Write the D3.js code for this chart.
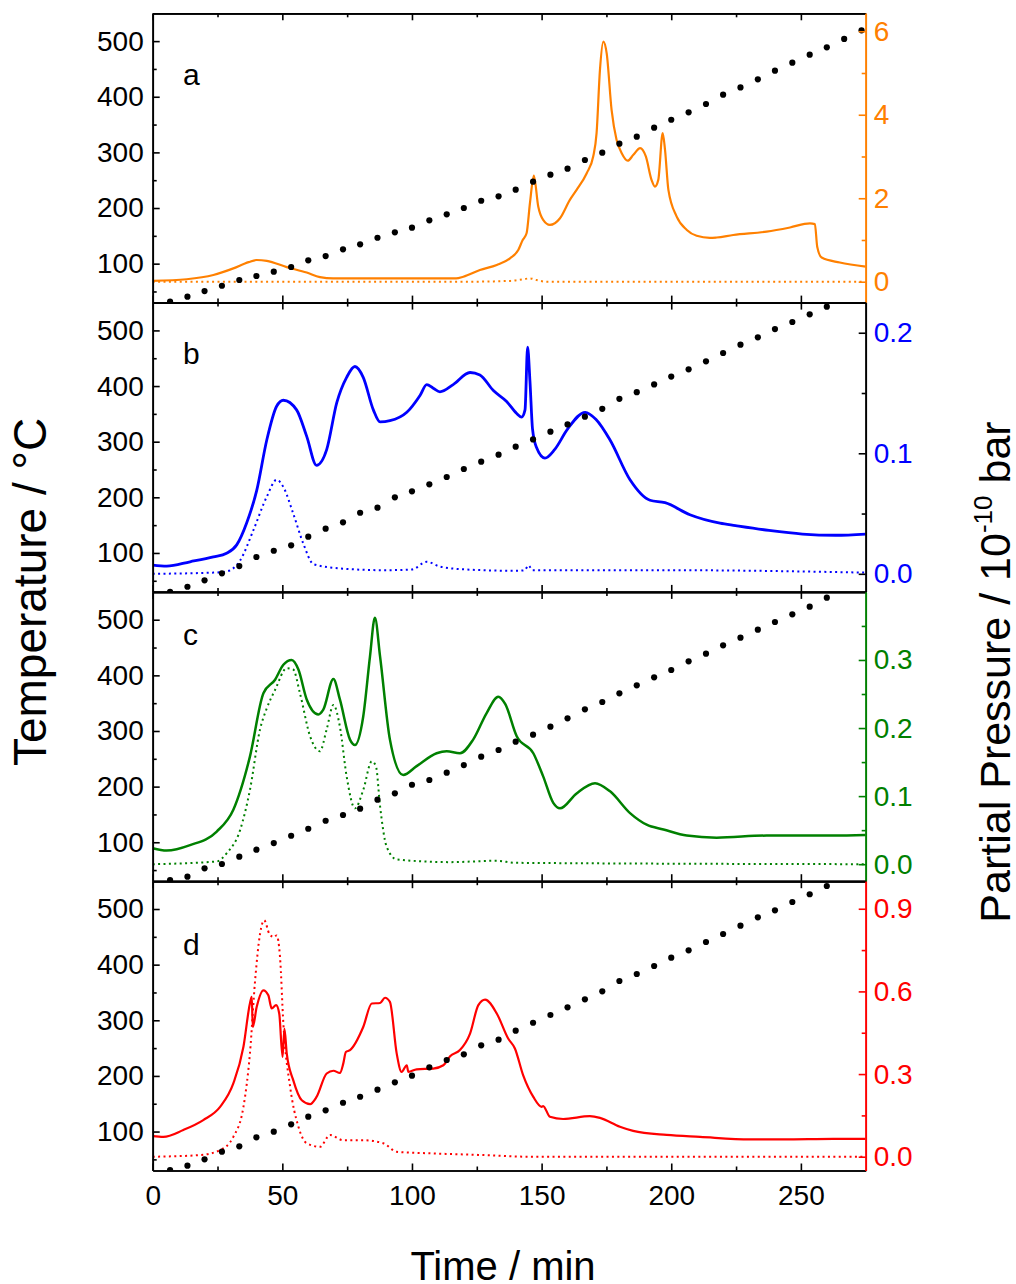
<!DOCTYPE html>
<html>
<head>
<meta charset="utf-8">
<script src="https://cdn.jsdelivr.net/npm/d3@7"></script>
<style>
  html, body { margin: 0; padding: 0; background: #fff; }
  svg { display: block; }
  text { font-family: Arial, "Liberation Sans", sans-serif; }
</style>
</head>
<body>
<svg id="chart" width="1016" height="1284"></svg>
<script>
// ---- data -------------------------------------------------------------
// sampling times of the thermocouple readings (min)
const dotTimes = [6.7, 13.4, 20.0, 26.7, 33.4, 40.0, 46.7, 53.4, 60.0, 66.7,
  73.4, 80.0, 86.7, 93.4, 100.0, 106.7, 113.4, 120.0, 126.7, 133.4, 140.0,
  146.7, 153.4, 160.0, 166.7, 173.4, 180.0, 186.7, 193.4, 200.0, 206.7,
  213.4, 220.0, 226.7, 233.4, 240.0, 246.7, 253.4, 260.0, 266.7, 273.4];

// temperature (°C) for each run
const tempA = [31.6, 40.6, 50.8, 60.3, 70.6, 77.8, 85.5, 94, 106, 113.7,
  125.8, 134.8, 146.6, 156.3, 164.6, 177.9, 188.7, 200, 213.1, 221, 232.9,
  247.3, 259.9, 270.7, 286.3, 299.4, 315.6, 328.2, 344.4, 358.7, 372, 387,
  403.7, 416.8, 431.3, 446.8, 461.2, 475.6, 488.9, 504, 519.4];
const tempB = [30.3, 39.3, 50.8, 63.4, 76.5, 92.7, 104, 113.7, 129.2, 143.6,
  155, 172.3, 181.3, 200, 210.8, 223.4, 236.5, 250.9, 264, 276.6, 291, 304,
  318, 331, 345, 359, 377, 389, 403, 417, 430, 444.5, 459.4, 474.3, 487.6,
  502.5, 515.1, 529, 542.6];
const tempC = [32.1, 38.1, 53.1, 60.9, 74, 86.6, 98.6, 111.7, 124.3, 138.7,
  149, 160.3, 176.5, 188, 203.4, 211.9, 225, 238.8, 253.8, 265.8, 280.7,
  293.3, 307.7, 322.8, 339, 352.1, 367.7, 382.1, 396.4, 409.6, 425.2, 438.9,
  454, 467.7, 482.1, 495.9, 509.7, 523.4, 539.6];
const tempD = [30.9, 38.6, 50.1, 63.8, 73.5, 89.6, 99.7, 113, 126.7, 138.2,
  151.8, 162.6, 175.2, 188.5, 200.4, 215.5, 228.6, 238.8, 255, 265.1, 281.3,
  295.6, 309.5, 323.3, 337.7, 352.1, 370.6, 383.2, 397.6, 412.5, 425.8,
  440.7, 455.1, 470, 485.1, 497.7, 512.6, 526.5, 541.4];

// partial pressures [time (min), p (1e-10 bar)]
const aSolid = [[0,0.02],[13.1,0.06],[23.4,0.16],[31.1,0.32],[37,0.47],[40.1,0.52],
  [44,0.50],[51.7,0.35],[59.4,0.22],[64.5,0.11],[69.6,0.08],[117,0.08],[119.8,0.12],
  [126.2,0.28],[132.7,0.40],[137.8,0.56],[141,0.76],[142.7,1.0],[144.2,1.16],
  [145.5,1.88],[147,2.54],[148.7,1.80],[150.6,1.48],[153.2,1.36],[157.1,1.52],
  [160.9,1.96],[163.5,2.20],[167.4,2.60],[169.9,3.0],[171.2,3.56],[172.5,5.07],
  [173.8,5.75],[175.1,5.47],[177,4.11],[178.9,3.40],[180.9,3.08],[183.2,2.90],
  [185.4,3.04],[188,3.20],[190.2,3.0],[192.4,2.44],[193.7,2.28],[195,2.44],
  [196.7,3.56],[197.6,3.16],[198.9,2.20],[202.1,1.56],[206,1.24],[209.8,1.10],
  [214.9,1.05],[217.5,1.06],[223.9,1.12],[236.8,1.20],[245.8,1.30],[253.5,1.40],
  [255.4,1.38],[256.3,0.84],[258,0.58],[265,0.46],[275,0.36]];
const aDotted = [[0,0],[120,0],[138,0.02],[143,0.06],[145.5,0.08],[148,0.04],
  [152,0],[275,0]];

const bSolid = [[0,0.0072],[5.4,0.0064],[14.4,0.010],[23.4,0.014],[28.5,0.017],
  [32.4,0.024],[36.2,0.042],[40.1,0.069],[44,0.111],[47.8,0.139],[50.4,0.144],
  [55.5,0.136],[59.4,0.114],[63.2,0.090],[67.1,0.103],[71,0.142],[74.8,0.163],
  [78,0.172],[81.2,0.163],[85.1,0.136],[87.7,0.126],[91.5,0.127],[98,0.134],
  [103.1,0.148],[105.7,0.157],[108.2,0.154],[110.8,0.151],[115.9,0.157],
  [122.4,0.167],[126.2,0.165],[131.4,0.152],[136.5,0.143],[140.4,0.133],
  [142.3,0.130],[143.6,0.136],[144.6,0.188],[145.5,0.160],[146.5,0.12],
  [148,0.105],[151.3,0.096],[155,0.103],[160,0.120],[166.8,0.134],[171,0.128],
  [176.4,0.111],[184.1,0.078],[191.8,0.061],[197.6,0.059],[207.2,0.049],
  [218.8,0.042],[224.8,0.040],[237.7,0.036],[250.6,0.033],[263.4,0.032],[275,0.033]];
const bDotted = [[0,0],[23.4,0.001],[28.5,0.002],[33.7,0.011],[38.8,0.036],
  [44,0.064],[47.8,0.078],[50.4,0.072],[54.2,0.050],[58.1,0.025],[62,0.008],
  [72.2,0.0045],[89,0.003],[100,0.0036],[105.7,0.010],[110.8,0.006],[121,0.0036],
  [140.4,0.0025],[143.5,0.003],[144.9,0.007],[146.5,0.003],[200,0.003],[275,0.001]];

const cSolid = [[0,0.0235],[5.4,0.020],[14.4,0.028],[24.7,0.048],[31.1,0.080],
  [37.5,0.158],[42.7,0.251],[47.2,0.271],[50.4,0.293],[53.6,0.300],[56.2,0.286],
  [59.4,0.242],[63.9,0.220],[65.8,0.227],[69.7,0.272],[72.2,0.242],[76.1,0.183],
  [78,0.175],[81.2,0.217],[83.8,0.305],[85.7,0.362],[87.7,0.305],[91.5,0.183],
  [96.6,0.131],[101.8,0.144],[109.5,0.163],[113.4,0.166],[118.5,0.163],
  [123.6,0.183],[128.8,0.222],[133.3,0.246],[136,0.235],[140.4,0.188],
  [146.8,0.163],[150.6,0.129],[154.5,0.090],[157.1,0.082],[163.5,0.104],
  [170.6,0.119],[176.4,0.107],[184.1,0.075],[190.5,0.058],[197,0.051],
  [206,0.042],[217.5,0.039],[236.8,0.042],[262.5,0.042],[275,0.043]];
const cDotted = [[0,0],[24.7,0.004],[28.5,0.016],[33.7,0.050],[37.5,0.109],
  [41.4,0.198],[44,0.229],[47.2,0.256],[51.7,0.288],[54.2,0.286],[56.8,0.251],
  [60.7,0.188],[64.5,0.166],[67.1,0.198],[69.7,0.234],[72.2,0.202],[74.8,0.129],
  [78,0.082],[81.2,0.109],[84.5,0.151],[86.1,0.144],[87.7,0.085],[90.2,0.026],
  [94.1,0.007],[114.7,0.003],[132.7,0.005],[140,0.002],[275,0]];

const dSolid = [[0,0.075],[4.1,0.072],[11.8,0.097],[19.5,0.133],[26,0.181],
  [31.1,0.266],[35,0.399],[37.5,0.556],[38.2,0.580],[38.6,0.471],[40.1,0.543],
  [42.7,0.604],[44.6,0.586],[45.9,0.538],[47.6,0.550],[48.8,0.520],[50.1,0.362],
  [50.8,0.465],[51.7,0.375],[54.2,0.278],[57.5,0.205],[60.7,0.191],[63.2,0.217],
  [67.1,0.302],[69.7,0.312],[72.2,0.304],[73.5,0.338],[74.5,0.380],[76.1,0.387],
  [81.2,0.471],[84.5,0.556],[87.7,0.558],[89.6,0.577],[91.5,0.562],[94.1,0.375],
  [96,0.308],[98,0.332],[98.6,0.308],[101.8,0.317],[108.2,0.320],[112.1,0.332],
  [114.7,0.365],[118.5,0.387],[122.4,0.447],[125.6,0.550],[128.2,0.570],
  [132.7,0.520],[137.1,0.429],[139.7,0.393],[142.9,0.295],[146.8,0.217],
  [150,0.181],[150.6,0.184],[153.2,0.145],[158.3,0.137],[168.6,0.147],
  [172.5,0.141],[180.2,0.109],[185.3,0.094],[198.2,0.079],[211.1,0.072],
  [230.4,0.063],[243.2,0.063],[262.5,0.065],[275,0.065]];
const dDotted = [[0,0],[18.2,0.006],[26,0.024],[31.1,0.072],[35,0.181],[37.5,0.375],
  [39.5,0.640],[41.4,0.809],[43,0.858],[45,0.809],[46.8,0.797],[47.8,0.803],
  [49.1,0.725],[50.4,0.483],[53,0.254],[56.2,0.109],[59.4,0.049],[64.5,0.036],
  [68.4,0.079],[73.5,0.060],[81.2,0.060],[88.9,0.049],[94.1,0.018],[108.2,0.012],
  [127.5,0.006],[145,0],[275,0]];

// axis ticks
const timeTicks = [0, 50, 100, 150, 200, 250];
const timeMinor = [25, 75, 125, 175, 225];
const tempTicks = [100, 200, 300, 400, 500];
const tempMinor = [50, 150, 250, 350, 450];

// ---- layout -----------------------------------------------------------
const plotLeft = 152.7, plotRight = 865.7, plotTop = 13.3, panelH = 289.3;

const panels = [
  { letter: "a", color: "#ff8000", axisColor: "#ff8000", solid: aSolid, dotted: aDotted,
    temp: tempA, pDomain: [-0.5, 6.43], pTicks: [0, 2, 4, 6], pMinor: [1, 3, 5],
    fmt: d3.format("d"), letterY: 85, width: 2.2 },
  { letter: "b", color: "#0000ff", axisColor: "#000000", solid: bSolid, dotted: bDotted,
    temp: tempB, pDomain: [-0.015, 0.225], pTicks: [0, 0.1, 0.2], pMinor: [0.05, 0.15],
    fmt: d3.format(".1f"), letterY: 364, width: 2.8 },
  { letter: "c", color: "#008000", axisColor: "#008000", solid: cSolid, dotted: cDotted,
    temp: tempC, pDomain: [-0.025, 0.4], pTicks: [0, 0.1, 0.2, 0.3], pMinor: [0.05, 0.15, 0.25, 0.35],
    fmt: d3.format(".1f"), letterY: 645, width: 2.5 },
  { letter: "d", color: "#ff0000", axisColor: "#ff0000", solid: dSolid, dotted: dDotted,
    temp: tempD, pDomain: [-0.05, 1.0], pTicks: [0, 0.3, 0.6, 0.9], pMinor: [0.15, 0.45, 0.75],
    fmt: d3.format(".1f"), letterY: 955, width: 2.2 }
];

const svg = d3.select("#chart");
const x = d3.scaleLinear().domain([0, 275]).range([plotLeft, plotRight]);
const FS = 28;

const styleAxis = (sel, color) => {
  sel.selectAll("path.domain").attr("stroke", color).attr("stroke-width", 1.7);
  sel.selectAll(".tick line").attr("stroke", color).attr("stroke-width", 1.6);
  sel.selectAll(".tick text").attr("font-size", FS)
    .attr("font-family", "Arial, 'Liberation Sans', sans-serif");
};

panels.forEach((p, i) => {
  const top = plotTop + i * panelH, bottom = top + panelH;
  const yT = d3.scaleLinear().domain([30, 550]).range([bottom, top]);
  const yP = d3.scaleLinear().domain(p.pDomain).range([bottom, top]);
  const isLast = i === panels.length - 1;

  const clipId = "clip" + i;
  svg.append("clipPath").attr("id", clipId)
    .append("rect").attr("x", plotLeft).attr("y", top)
    .attr("width", plotRight - plotLeft).attr("height", panelH);

  const g = svg.append("g").attr("clip-path", `url(#${clipId})`);
  const line = d3.line().x(d => x(d[0])).y(d => yP(d[1])).curve(d3.curveMonotoneX);

  g.append("path").datum(p.dotted).attr("d", line)
    .attr("fill", "none").attr("stroke", p.color)
    .attr("stroke-width", 2).attr("stroke-dasharray", "2,3.4");
  g.append("path").datum(p.solid).attr("d", line)
    .attr("fill", "none").attr("stroke", p.color)
    .attr("stroke-width", p.width).attr("stroke-linejoin", "round");

  g.selectAll("circle.temp").data(p.temp).join("circle")
    .attr("class", "temp")
    .attr("cx", (d, k) => x(dotTimes[k]))
    .attr("cy", d => yT(d))
    .attr("r", 3.1).attr("fill", "#000");

  // bottom & top time axes (inward ticks)
  const gb = svg.append("g").attr("transform", `translate(0,${bottom})`);
  gb.append("g").call(d3.axisBottom(x).tickValues(timeTicks).tickSize(-7).tickSizeOuter(0)
    .tickPadding(15).tickFormat(isLast ? d3.format("d") : () => ""));
  gb.append("g").call(d3.axisBottom(x).tickValues(timeMinor).tickSize(-4).tickSizeOuter(0)
    .tickFormat(() => ""));
  styleAxis(gb, "#000");
  gb.selectAll(".tick text").attr("fill", "#000");

  const gt = svg.append("g").attr("transform", `translate(0,${top})`);
  gt.append("g").call(d3.axisTop(x).tickValues(timeTicks).tickSize(-7).tickSizeOuter(0).tickFormat(() => ""));
  gt.append("g").call(d3.axisTop(x).tickValues(timeMinor).tickSize(-4).tickSizeOuter(0).tickFormat(() => ""));
  styleAxis(gt, "#000");

  // left temperature axis
  const gl = svg.append("g").attr("transform", `translate(${plotLeft},0)`);
  gl.append("g").call(d3.axisLeft(yT).tickValues(tempTicks).tickSize(-7).tickSizeOuter(0)
    .tickPadding(9).tickFormat(d3.format("d")));
  gl.append("g").call(d3.axisLeft(yT).tickValues(tempMinor).tickSize(-4).tickSizeOuter(0).tickFormat(() => ""));
  styleAxis(gl, "#000");
  gl.selectAll(".tick text").attr("fill", "#000");

  // right partial pressure axis
  const gr = svg.append("g").attr("transform", `translate(${plotRight},0)`);
  gr.append("g").call(d3.axisRight(yP).tickValues(p.pTicks).tickSize(-7).tickSizeOuter(0)
    .tickPadding(8).tickFormat(p.fmt));
  gr.append("g").call(d3.axisRight(yP).tickValues(p.pMinor).tickSize(-4).tickSizeOuter(0).tickFormat(() => ""));
  styleAxis(gr, p.axisColor);
  gr.selectAll(".tick text").attr("fill", p.color);

  svg.append("text").attr("x", 183).attr("y", p.letterY)
    .attr("font-size", 30).attr("fill", "#000").text(p.letter);
});

// axis titles
svg.append("text")
  .attr("transform", "translate(46,592) rotate(-90)")
  .attr("text-anchor", "middle").attr("font-size", 46).attr("fill", "#000")
  .text("Temperature / °C");

const rt = svg.append("text")
  .attr("transform", "translate(1010,672) rotate(-90)")
  .attr("text-anchor", "middle").attr("font-size", 43).attr("fill", "#000");
rt.append("tspan").text("Partial Pressure / 10");
rt.append("tspan").attr("font-size", 26).attr("dy", -18).text("-10");
rt.append("tspan").attr("dy", 18).text(" bar");

svg.append("text")
  .attr("x", 503).attr("y", 1280)
  .attr("text-anchor", "middle").attr("font-size", 40).attr("fill", "#000")
  .text("Time / min");
</script>
</body>
</html>
